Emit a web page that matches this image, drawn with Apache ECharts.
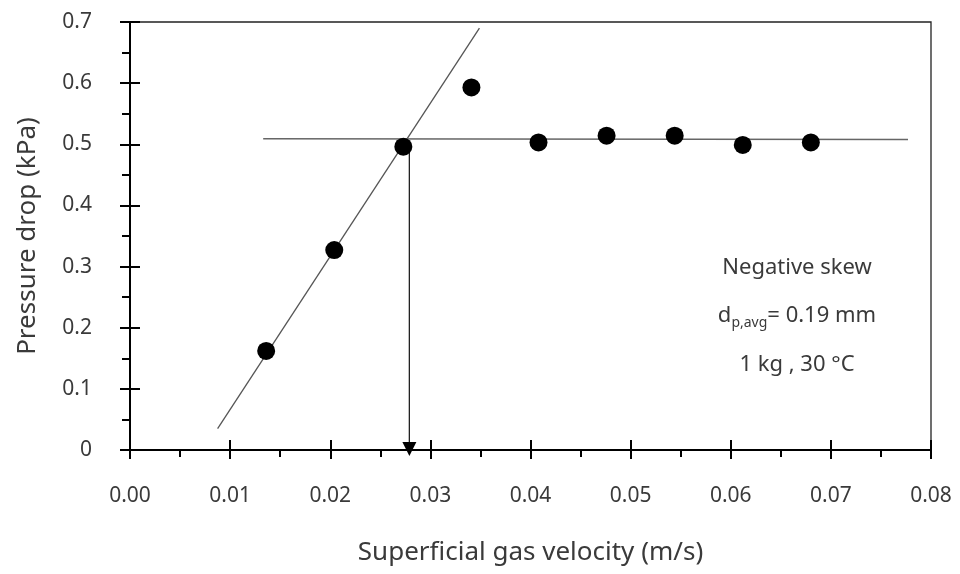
<!DOCTYPE html>
<html>
<head>
<meta charset="utf-8">
<script src="https://cdn.jsdelivr.net/npm/echarts@6/dist/echarts.min.js"></script>
<style>
  html, body { margin: 0; padding: 0; background: #fff; }
  #chart { width: 960px; height: 574px; }
</style>
</head>
<body>
<div id="chart"></div>
<script>
// measured points
const velocity = [0.0136, 0.0204, 0.0273, 0.0341, 0.0408, 0.0476, 0.0544, 0.0612, 0.0680]
const pressureDrop = [0.162, 0.327, 0.496, 0.593, 0.503, 0.514, 0.514, 0.499, 0.503]
// fitted lines (end points)
const risingLine = [[0.00875, 0.035], [0.0349, 0.690]]
const plateauLine = [[0.0133, 0.509], [0.0777, 0.508]]
// minimum fluidization velocity arrow
const arrowLine = [[0.0279, 0.505], [0.0279, 0]]
const xTicks = ['0.00', '0.01', '0.02', '0.03', '0.04', '0.05', '0.06', '0.07', '0.08']
const yTicks = ['0', '0.1', '0.2', '0.3', '0.4', '0.5', '0.6', '0.7']

const font = 'Noto Sans'
const textColor = '#3a3a3a'
const chart = echarts.init(document.getElementById('chart'))

const xBase = {
  type: 'value',
  min: 0,
  max: 0.08,
  interval: 0.01,
  splitLine: { show: false }
}
const yBase = {
  type: 'value',
  min: 0,
  max: 0.7,
  interval: 0.1,
  splitLine: { show: false }
}

const option = {
  animation: false,
  grid: {
    left: 130,
    right: 29,
    top: 22,
    bottom: 124,
    show: true,
    borderColor: '#222',
    borderWidth: 1.3
  },
  xAxis: [
    Object.assign({}, xBase, {
      name: 'Superficial gas velocity (m/s)',
      nameLocation: 'middle',
      nameGap: 90,
      nameTextStyle: { fontFamily: font, fontSize: 26, color: textColor },
      axisLine: { show: true, lineStyle: { color: '#000', width: 2 } },
      axisTick: { show: true, length: 9, lineStyle: { color: '#000', width: 2 } },
      minorTick: { show: true, splitNumber: 2, length: 7, lineStyle: { color: '#000', width: 2 } },
      axisLabel: {
        margin: 36,
        fontFamily: font,
        fontSize: 21,
        color: textColor,
        formatter: (v) => xTicks[Math.round(v * 100)]
      }
    }),
    // inner half of the crossing major ticks
    Object.assign({}, xBase, {
      position: 'bottom',
      axisLine: { show: false },
      axisTick: { show: true, inside: true, length: 10, lineStyle: { color: '#000', width: 2 } },
      axisLabel: { show: false }
    })
  ],
  yAxis: [
    Object.assign({}, yBase, {
      name: 'Pressure drop (kPa)',
      nameLocation: 'middle',
      nameGap: 89,
      nameTextStyle: { fontFamily: font, fontSize: 26, color: textColor },
      axisLine: { show: true, lineStyle: { color: '#000', width: 2 } },
      axisTick: { show: true, length: 10, lineStyle: { color: '#000', width: 2 } },
      minorTick: { show: true, splitNumber: 2, length: 8, lineStyle: { color: '#000', width: 2 } },
      axisLabel: {
        margin: 38,
        fontFamily: font,
        fontSize: 21,
        color: textColor,
        formatter: (v) => yTicks[Math.round(v * 10)]
      }
    }),
    Object.assign({}, yBase, {
      position: 'left',
      axisLine: { show: false },
      axisTick: { show: true, inside: true, length: 10, lineStyle: { color: '#000', width: 2 } },
      axisLabel: { show: false }
    })
  ],
  series: [
    {
      type: 'line',
      data: risingLine,
      symbol: 'none',
      lineStyle: { color: '#555', width: 1.3 },
      z: 2
    },
    {
      type: 'line',
      data: plateauLine,
      symbol: 'none',
      lineStyle: { color: '#666', width: 1.5 },
      z: 2
    },
    {
      type: 'line',
      data: arrowLine,
      symbol: 'none',
      lineStyle: { color: '#222', width: 1.3 },
      z: 2
    },
    {
      type: 'scatter',
      data: [arrowLine[1]],
      symbol: 'triangle',
      symbolRotate: 180,
      symbolSize: [14, 14],
      symbolOffset: [0, -1],
      itemStyle: { color: '#000', opacity: 1 },
      clip: false,
      z: 4
    },
    {
      type: 'scatter',
      data: velocity.map((v, i) => [v, pressureDrop[i]]),
      symbol: 'circle',
      symbolSize: 18,
      itemStyle: { color: '#000', opacity: 1 },
      z: 5
    }
  ],
  graphic: [
    {
      type: 'text',
      style: {
        x: 797, y: 268,
        text: 'Negative skew',
        font: '22px "Noto Sans"',
        fill: textColor,
        align: 'center',
        verticalAlign: 'middle'
      }
    },
    {
      type: 'text',
      style: {
        x: 797, y: 316,
        text: '{n|d}{s|p,avg}{n|= 0.19 mm}',
        rich: {
          n: { fontFamily: font, fontSize: 22, fill: textColor },
          s: { fontFamily: font, fontSize: 14, fill: textColor, padding: [14, 0, 0, 0] }
        },
        align: 'center',
        verticalAlign: 'middle'
      }
    },
    {
      type: 'text',
      style: {
        x: 797, y: 365,
        text: '1 kg , 30 °C',
        font: '22px "Noto Sans"',
        fill: textColor,
        align: 'center',
        verticalAlign: 'middle'
      }
    }
  ]
}
chart.setOption(option)
</script>
</body>
</html>
